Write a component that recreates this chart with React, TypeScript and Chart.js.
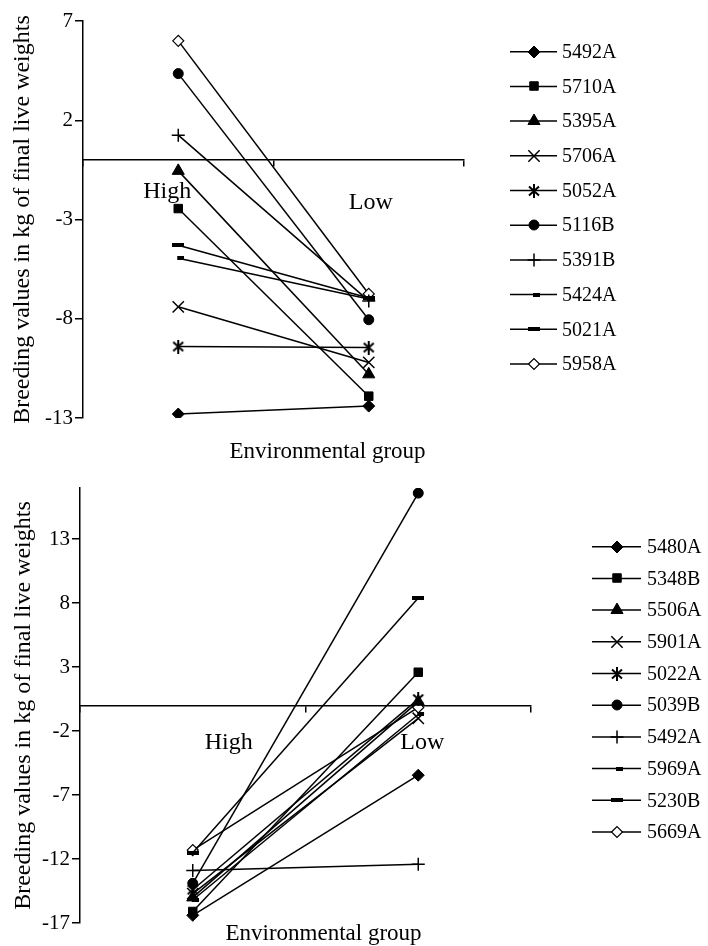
import React, { useEffect, useRef } from 'react';
import { Chart, registerables } from 'chart.js';
import { drawPoint } from 'chart.js/helpers';

Chart.register(...registerables);

const FONT = '"Liberation Serif", "Times New Roman", serif';

const CATEGORIES = ['High', 'Low'];
const Y_TITLE = 'Breeding values in kg of final live weights';
const X_TITLE = 'Environmental group';

const TOP_SERIES = ['5492A', '5710A', '5395A', '5706A', '5052A', '5116B', '5391B', '5424A', '5021A', '5958A'];
const TOP_HIGH = [-12.8, -2.45, -0.55, -7.4, -9.4, 4.35, 1.25, -4.95, -4.3, 6.0];
const TOP_LOW = [-12.4, -11.9, -10.8, -10.2, -9.45, -8.05, -7.1, -7.0, -6.95, -6.75];
const TOP_Y_TICKS = [-13, -8, -3, 2, 7];
const TOP_Y_MIN = -13;
const TOP_Y_MAX = 7;

const BOTTOM_SERIES = ['5480A', '5348B', '5506A', '5901A', '5022A', '5039B', '5492A', '5969A', '5230B', '5669A'];
const BOTTOM_HIGH = [-16.4, -16.1, -15.0, -14.7, -14.4, -13.9, -12.9, -15.2, -11.5, -11.3];
const BOTTOM_LOW = [-5.45, 2.6, 0.3, -1.0, 0.5, 16.6, -12.4, -0.7, 8.4, -0.15];
const BOTTOM_Y_TICKS = [-17, -12, -7, -2, 3, 8, 13];
const BOTTOM_Y_MIN = -17;
const BOTTOM_Y_MAX = 17;

type Marker = { style: any; radius: number; fill: string; border: number };

function makeCanvas(w: number, h: number, draw: (c: CanvasRenderingContext2D) => void) {
  const cv = document.createElement('canvas');
  cv.width = w;
  cv.height = h;
  const c = cv.getContext('2d')!;
  draw(c);
  return cv;
}

function makeMarkers(): Marker[] {
  const asterisk = makeCanvas(14, 14, (c) => {
    c.strokeStyle = '#000';
    c.lineWidth = 2;
    c.beginPath();
    c.moveTo(2, 2.5); c.lineTo(12, 11.5);
    c.moveTo(12, 2.5); c.lineTo(2, 11.5);
    c.moveTo(7, 0); c.lineTo(7, 14);
    c.stroke();
  });
  const smallDash = makeCanvas(12, 4, (c) => {
    c.fillStyle = '#000';
    c.fillRect(5, 0, 7, 4);
  });
  const longDash = makeCanvas(12, 4, (c) => {
    c.fillStyle = '#000';
    c.fillRect(0, 0, 12, 4);
  });
  return [
    { style: 'rectRot', radius: 6, fill: '#000', border: 1 },
    { style: 'rect', radius: 6, fill: '#000', border: 1 },
    { style: 'triangle', radius: 7, fill: '#000', border: 1 },
    { style: 'crossRot', radius: 8, fill: '#000', border: 1.5 },
    { style: asterisk, radius: 7, fill: '#000', border: 1.5 },
    { style: 'circle', radius: 5, fill: '#000', border: 1 },
    { style: 'cross', radius: 6.5, fill: '#000', border: 1.5 },
    { style: smallDash, radius: 5, fill: '#000', border: 1 },
    { style: longDash, radius: 6, fill: '#000', border: 1 },
    { style: 'rectRot', radius: 5.5, fill: '#fff', border: 1.2 },
  ];
}

type Layout = {
  padding: { left: number; top: number; right: number; bottom: number };
  axisWidth: number;
  catDx: number[];
  catDy: number[];
  titleDx: number;
  titleDy: number;
  legDx: number;
  legLen: number;
  legGap: number;
  legTop: number;
  legStep: number;
  legFont: number;
};

function overlayPlugin(layout: Layout, markers: Marker[]) {
  return {
    id: 'overlay',
    afterDraw(chart: any) {
      const ctx: CanvasRenderingContext2D = chart.ctx;
      const xs = chart.scales.x;
      const ys = chart.scales.y;
      const area = chart.chartArea;
      const zero = ys.getPixelForValue(0);
      ctx.save();
      ctx.fillStyle = '#000';
      ctx.font = `24px ${FONT}`;
      ctx.textAlign = 'center';
      ctx.textBaseline = 'alphabetic';
      CATEGORIES.forEach((c, i) => {
        ctx.fillText(c, xs.getPixelForValue(i) + layout.catDx[i], zero + layout.catDy[i]);
      });
      ctx.font = `23px ${FONT}`;
      ctx.fillText(X_TITLE, (area.left + area.right) / 2 + layout.titleDx, area.bottom + layout.titleDy);

      chart.data.datasets.forEach((ds: any, i: number) => {
        const y = layout.legTop + i * layout.legStep;
        const x0 = area.right + layout.legDx;
        ctx.strokeStyle = '#000';
        ctx.lineWidth = 1.5;
        ctx.beginPath();
        ctx.moveTo(x0, y);
        ctx.lineTo(x0 + layout.legLen, y);
        ctx.stroke();
        const mk = markers[i];
        ctx.fillStyle = mk.fill;
        ctx.strokeStyle = '#000';
        ctx.lineWidth = mk.border;
        drawPoint(ctx, { pointStyle: mk.style, radius: mk.radius, rotation: 0, borderWidth: mk.border } as any, Math.round(x0 + layout.legLen / 2), Math.round(y));
        ctx.fillStyle = '#000';
        ctx.font = `${layout.legFont}px ${FONT}`;
        ctx.textAlign = 'left';
        ctx.textBaseline = 'middle';
        ctx.fillText(ds.label, x0 + layout.legLen + layout.legGap, y + 1);
      });
      ctx.restore();
    },
  };
}

function buildChart(
  canvas: HTMLCanvasElement,
  series: string[],
  high: number[],
  low: number[],
  yTicks: number[],
  yMin: number,
  yMax: number,
  layout: Layout
) {
  const markers = makeMarkers();
  return new Chart(canvas, {
    type: 'line',
    data: {
      labels: CATEGORIES,
      datasets: series.map((name, i) => ({
        label: name,
        data: [high[i], low[i]],
        borderColor: '#000',
        borderWidth: 1.5,
        pointStyle: markers[i].style,
        pointRadius: markers[i].radius,
        pointHoverRadius: markers[i].radius,
        pointBackgroundColor: markers[i].fill,
        pointBorderColor: '#000',
        pointBorderWidth: markers[i].border,
        tension: 0,
        fill: false,
      })),
    },
    options: {
      responsive: false,
      animation: false,
      events: [],
      layout: { padding: layout.padding },
      plugins: {
        legend: { display: false },
        tooltip: { enabled: false },
      },
      scales: {
        x: {
          type: 'category',
          axis: 'x',
          offset: true,
          position: { y: 0 },
          grid: {
            offset: true,
            drawOnChartArea: false,
            drawTicks: true,
            tickLength: 6,
            color: '#000',
            lineWidth: 1.5,
          },
          border: { display: true, color: '#000', width: 1.5 },
          ticks: { display: false },
        },
        y: {
          type: 'linear',
          min: yMin,
          max: yMax,
          afterBuildTicks: (s: any) => {
            s.ticks = yTicks.map((v) => ({ value: v }));
          },
          afterFit: (s: any) => {
            s.width = layout.axisWidth;
          },
          grid: {
            drawOnChartArea: false,
            drawTicks: true,
            tickLength: 8,
            color: '#000',
            lineWidth: 1.5,
          },
          border: { display: true, color: '#000', width: 1.5 },
          ticks: {
            color: '#000',
            padding: 2,
            font: { family: FONT, size: 21 },
            callback: (v: any) => String(v),
          },
          title: {
            display: true,
            text: Y_TITLE,
            color: '#000',
            font: { family: FONT, size: 24 },
          },
        },
      },
    },
    plugins: [overlayPlugin(layout, markers)],
  } as any);
}

const TOP_LAYOUT: Layout = {
  padding: { left: 4, top: 21, right: 244, bottom: 52 },
  axisWidth: 79,
  catDx: [-11, 2],
  catDy: [38, 49],
  titleDx: 54,
  titleDy: 40,
  legDx: 46,
  legLen: 47,
  legGap: 5,
  legTop: 51.7,
  legStep: 34.7,
  legFont: 20,
};

const BOTTOM_LAYOUT: Layout = {
  padding: { left: 5, top: 18, right: 177, bottom: 23 },
  axisWidth: 75,
  catDx: [36, 4],
  catDy: [43, 43],
  titleDx: 18,
  titleDy: 17,
  legDx: 61,
  legLen: 49,
  legGap: 6,
  legTop: 76.7,
  legStep: 31.7,
  legFont: 20,
};

export default function App() {
  const topRef = useRef<HTMLCanvasElement>(null);
  const bottomRef = useRef<HTMLCanvasElement>(null);

  useEffect(() => {
    const c1 = buildChart(topRef.current!, TOP_SERIES, TOP_HIGH, TOP_LOW, TOP_Y_TICKS, TOP_Y_MIN, TOP_Y_MAX, TOP_LAYOUT);
    const c2 = buildChart(bottomRef.current!, BOTTOM_SERIES, BOTTOM_HIGH, BOTTOM_LOW, BOTTOM_Y_TICKS, BOTTOM_Y_MIN, BOTTOM_Y_MAX, BOTTOM_LAYOUT);
    return () => {
      c1.destroy();
      c2.destroy();
    };
  }, []);

  return (
    <div style={{ position: 'absolute', left: 0, top: 0, width: 708, height: 946, background: '#fff' }}>
      <canvas ref={topRef} width={708} height={470} style={{ display: 'block', width: 708, height: 470 }} />
      <canvas ref={bottomRef} width={708} height={476} style={{ display: 'block', width: 708, height: 476 }} />
    </div>
  );
}
